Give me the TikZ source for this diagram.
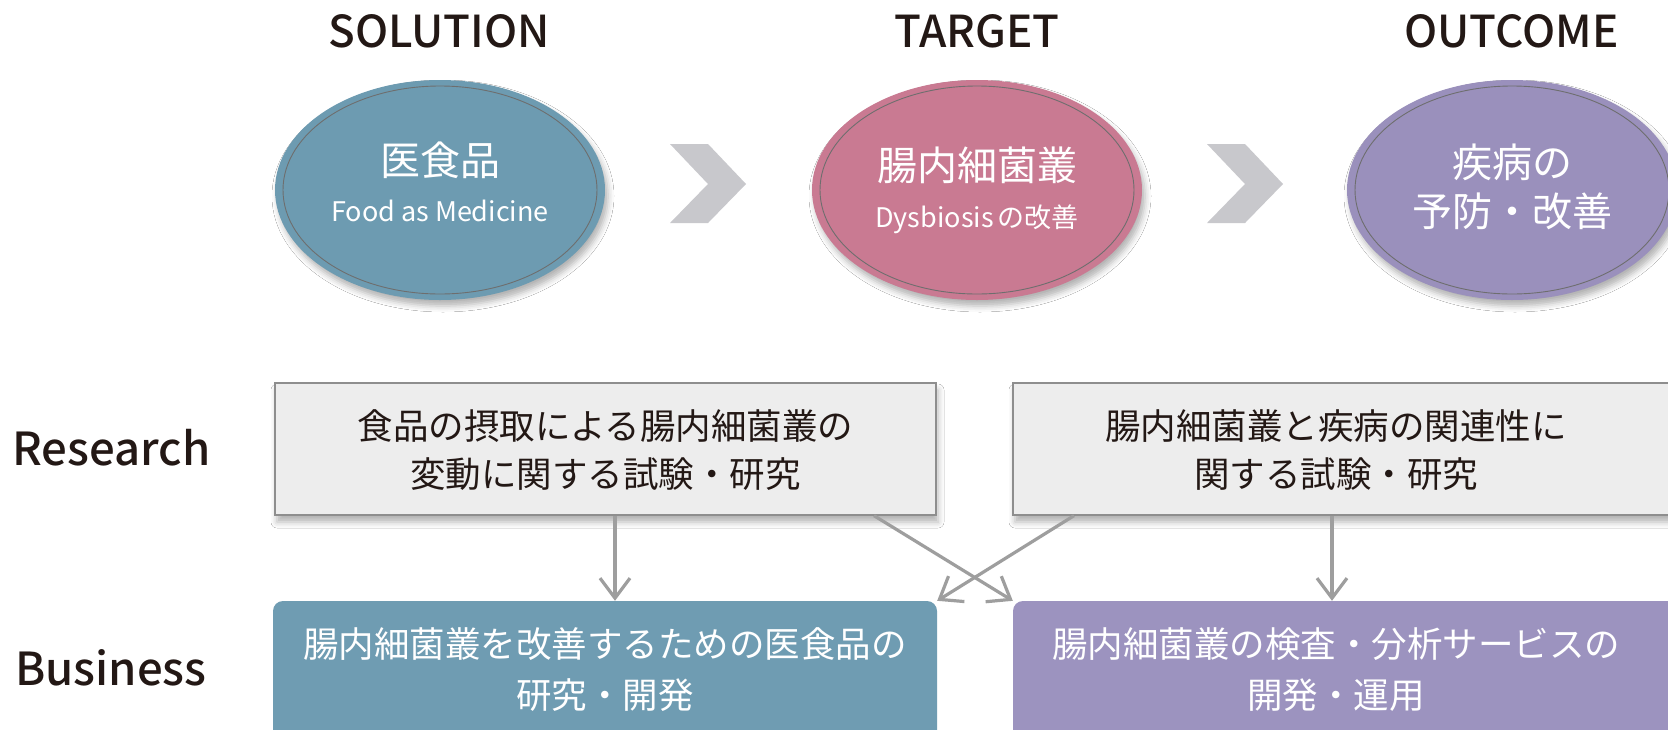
\documentclass[tikz,border=0pt]{standalone}
\usepackage{fontspec}
\setmainfont{Noto Sans CJK JP}
\newfontfamily\medfont{Noto Sans CJK JP}[UprightFont=* Medium, BoldFont=* Medium]
\usetikzlibrary{shapes.geometric,arrows.meta,shadows.blur}
\pgfdeclarelayer{bg}
\pgfsetlayers{bg,main}
\definecolor{cblue}{HTML}{6D9BB1}
\definecolor{cpink}{HTML}{C97A92}
\definecolor{cpurple}{HTML}{9A90BC}
\definecolor{bblue}{HTML}{6F9CB2}
\definecolor{bpurple}{HTML}{9C93BF}
\definecolor{boxfill}{HTML}{EDEDED}
\definecolor{boxborder}{HTML}{8E8E8E}
\definecolor{chev}{HTML}{C8C8CC}
\definecolor{arrowgray}{HTML}{9E9E9E}
\definecolor{linegray}{HTML}{939393}
\definecolor{ringgray}{HTML}{6E6E6E}
\definecolor{textdark}{HTML}{231815}
\begin{document}
\begin{tikzpicture}[x=1pt,y=-1pt,
  oval/.style={ellipse, minimum width=330pt, minimum height=220pt, inner sep=0pt,
    blur shadow={shadow xshift=3pt, shadow yshift=-6pt, shadow blur radius=6pt, shadow opacity=30}},
  ring/.style={draw=ringgray, line width=0.9pt},
  head/.style={font=\fontsize{44}{50}\selectfont\medfont, text=textdark, inner sep=0pt, anchor=base},
  side/.style={font=\fontsize{45.5}{52}\selectfont\medfont, text=textdark, inner sep=0pt, anchor=base west},
  bigw/.style={font=\fontsize{40}{46}\selectfont, text=white, inner sep=0pt},
  smallw/.style={font=\fontsize{27}{32}\selectfont, text=white, inner sep=0pt, anchor=base},
  rbox/.style={draw=boxborder, line width=1.3pt, fill=boxfill, inner sep=0pt,
    blur shadow={shadow xshift=2pt, shadow yshift=-7pt, shadow blur radius=6pt, shadow opacity=30}},
  bbox/.style={rounded corners=10pt, inner sep=0pt},
  rtext/.style={font=\fontsize{35.5}{47.5}\selectfont, text=textdark, align=center, inner sep=0pt},
  btext/.style={font=\fontsize{35.5}{51}\selectfont, text=white, align=center, inner sep=0pt},
  conn/.style={draw=linegray, line width=3.2pt},
  arr/.style={draw=arrowgray, line width=3.2pt, -{Straight Barb[length=20pt,width=30pt]}},
  chevron/.style={fill=chev}
]
\useasboundingbox (0,0) rectangle (1668,729);
\clip (0,0) rectangle (1668,729);
\fill[white] (0,0) rectangle (1668,729);

% headings
\node[head] (h1) at (439,47) {SOLUTION};
\node[head] (h2) at (977,47) {TARGET};
\node[head] (h3) at (1511.5,47) {OUTCOME};

% ellipses
\node[oval, fill=cblue] (e1) at (440,190) {};
\node[oval, fill=cpink] (e2) at (977,190) {};
\node[oval, fill=cpurple] (e3) at (1512,190) {};
\draw[ring] (e1.center) ellipse [x radius=157pt, y radius=104pt];
\draw[ring] (e2.center) ellipse [x radius=157pt, y radius=104pt];
\draw[ring] (e3.center) ellipse [x radius=157pt, y radius=104pt];

\node[bigw] (e1a) at (440,160.5) {医食品};
\node[smallw] (e1b) at (440,221) {Food as Medicine};
\node[bigw] (e2a) at (977,165.5) {腸内細菌叢};
\node[smallw] (e2b) at (977,227) {Dysbiosis\hspace{4pt}の改善};
\node[bigw] (e3a) at (1512,162) {疾病の};
\node[bigw] (e3b) at (1512,211.5) {予防・改善};

% chevrons
\fill[chevron] (670,144) -- (708,144) -- (746,184) -- (708,223) -- (670,223) -- (708,184) -- cycle;
\fill[chevron] (1207,144) -- (1245,144) -- (1283,184) -- (1245,223) -- (1207,223) -- (1245,184) -- cycle;

% side labels
\node[side] (lr) at (12,465) {Research};
\node[side] (lb) at (15,685) {Business};

% research boxes
\node[rbox, minimum width=661pt, minimum height=132pt] (r1) at (605.5,449) {};
\node[rbox, minimum width=700pt, minimum height=132pt] (r2) at (1363,449) {};
\node[rtext] (r1t) at (605.5,450) {食品の摂取による腸内細菌叢の\\変動に関する試験・研究};
\node[rtext] (r2t) at (1336,450) {腸内細菌叢と疾病の関連性に\\関する試験・研究};

% business boxes
\node[bbox, fill=bblue, minimum width=664pt, minimum height=170pt] (b1) at (605,686) {};
\node[bbox, fill=bpurple, minimum width=700pt, minimum height=170pt] (b2) at (1363,686) {};
\node[btext] (b1t) at (605,670) {腸内細菌叢を改善するための医食品の\\研究・開発};
\node[btext] (b2t) at (1336,670) {腸内細菌叢の検査・分析サービスの\\開発・運用};

% connector anchor coordinates
\coordinate (p1) at (601,0);
\coordinate (p2) at (793,0);
\coordinate (p3) at (1157,0);
\coordinate (p4) at (1349,0);
\coordinate (v1) at (615,0);
\coordinate (v2) at (1332,0);
\coordinate (x1) at (874,0);
\coordinate (x2) at (1074,0);

\begin{pgfonlayer}{bg}
\draw[conn] (e1.south) -- (r1.north -| p1);
\draw[conn] (e2.south) -- (r1.north -| p2);
\draw[conn] (e2.south) -- (r1.north -| p3);
\draw[conn] (e3.south) -- (r1.north -| p4);
\end{pgfonlayer}

\draw[arr] (r1.south -| v1) -- (b1.north -| v1);
\draw[arr] (r2.south -| v2) -- (b2.north -| v2);
\draw[arr] (r1.south -| x1) -- (b2.north west);
\draw[arr] (r2.south -| x2) -- (b1.north east);
\end{tikzpicture}
\end{document}
